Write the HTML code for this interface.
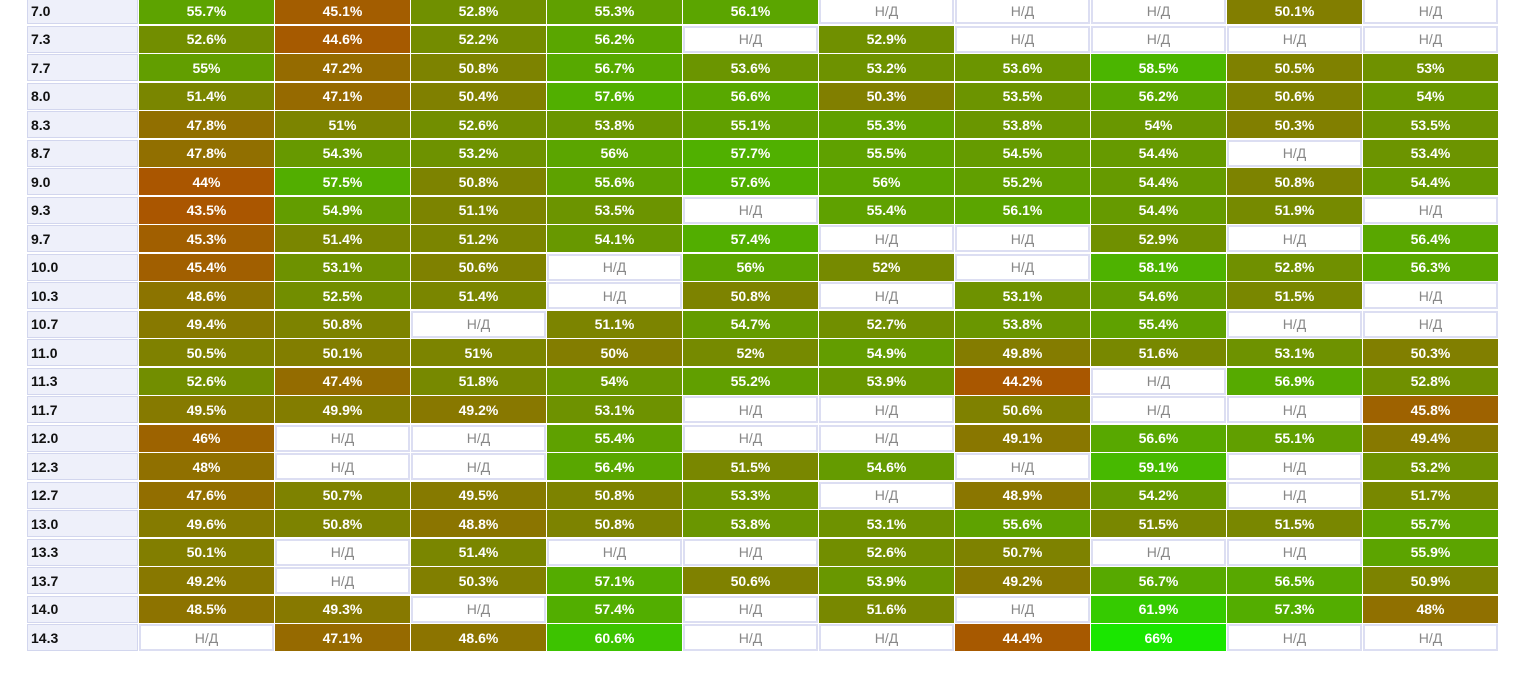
<!DOCTYPE html>
<html><head><meta charset="utf-8"><style>
body{margin:0;width:1519px;height:673px;background:#fff;overflow:hidden;font-family:"Liberation Sans","DejaVu Sans",sans-serif;position:relative}
.c{position:absolute;box-sizing:border-box;display:flex;align-items:center;justify-content:center;font-size:14px;color:#fff;font-weight:bold}
.l{justify-content:flex-start;padding-left:3px;background:#eef0fa;border:1px solid #d2d6ee;color:#111;font-weight:bold}
.na{background:#fff;border:2px solid #dcdef2;color:#888;font-weight:normal}
</style></head><body>
<div id="grid"></div>
<script>
const rowLabels=["7.0","7.3","7.7","8.0","8.3","8.7","9.0","9.3","9.7","10.0","10.3","10.7","11.0","11.3","11.7","12.0","12.3","12.7","13.0","13.3","13.7","14.0","14.3"];
const N=null;
const values=[
[55.7,45.1,52.8,55.3,56.1,N,N,N,50.1,N],
[52.6,44.6,52.2,56.2,N,52.9,N,N,N,N],
[55,47.2,50.8,56.7,53.6,53.2,53.6,58.5,50.5,53],
[51.4,47.1,50.4,57.6,56.6,50.3,53.5,56.2,50.6,54],
[47.8,51,52.6,53.8,55.1,55.3,53.8,54,50.3,53.5],
[47.8,54.3,53.2,56,57.7,55.5,54.5,54.4,N,53.4],
[44,57.5,50.8,55.6,57.6,56,55.2,54.4,50.8,54.4],
[43.5,54.9,51.1,53.5,N,55.4,56.1,54.4,51.9,N],
[45.3,51.4,51.2,54.1,57.4,N,N,52.9,N,56.4],
[45.4,53.1,50.6,N,56,52,N,58.1,52.8,56.3],
[48.6,52.5,51.4,N,50.8,N,53.1,54.6,51.5,N],
[49.4,50.8,N,51.1,54.7,52.7,53.8,55.4,N,N],
[50.5,50.1,51,50,52,54.9,49.8,51.6,53.1,50.3],
[52.6,47.4,51.8,54,55.2,53.9,44.2,N,56.9,52.8],
[49.5,49.9,49.2,53.1,N,N,50.6,N,N,45.8],
[46,N,N,55.4,N,N,49.1,56.6,55.1,49.4],
[48,N,N,56.4,51.5,54.6,N,59.1,N,53.2],
[47.6,50.7,49.5,50.8,53.3,N,48.9,54.2,N,51.7],
[49.6,50.8,48.8,50.8,53.8,53.1,55.6,51.5,51.5,55.7],
[50.1,N,51.4,N,N,52.6,50.7,N,N,55.9],
[49.2,N,50.3,57.1,50.6,53.9,49.2,56.7,56.5,50.9],
[48.5,49.3,N,57.4,N,51.6,N,61.9,57.3,48],
[N,47.1,48.6,60.6,N,N,44.4,66,N,N]];
const g=document.getElementById('grid');
function rowY(i){return -3+i*28.5;}
function colX(j){return 139+j*136;}
function color(v){let t=(v-44)/22;t=Math.max(0,Math.min(1,t));
 const r=Math.round(170-144*t),gg=Math.round(86+144*t),b=0;return `rgb(${r},${gg},${b})`;}
rowLabels.forEach((lab,i)=>{
 const d=document.createElement('div');d.className='c l';
 
 
 d.style.cssText=`left:27px;top:${rowY(i)}px;width:111px;height:27px`;d.textContent=lab;g.appendChild(d);
 values[i].forEach((v,j)=>{
  const c=document.createElement('div');
  
  
  c.style.left=colX(j)+'px';c.style.top=rowY(i)+'px';c.style.width='135px';c.style.height='27px';
  if(v===null){c.className='c na';c.textContent='Н/Д';}
  else{c.className='c';c.style.background=color(v);c.textContent=v+'%';}
  g.appendChild(c);
 });
});
</script>
</body></html>
